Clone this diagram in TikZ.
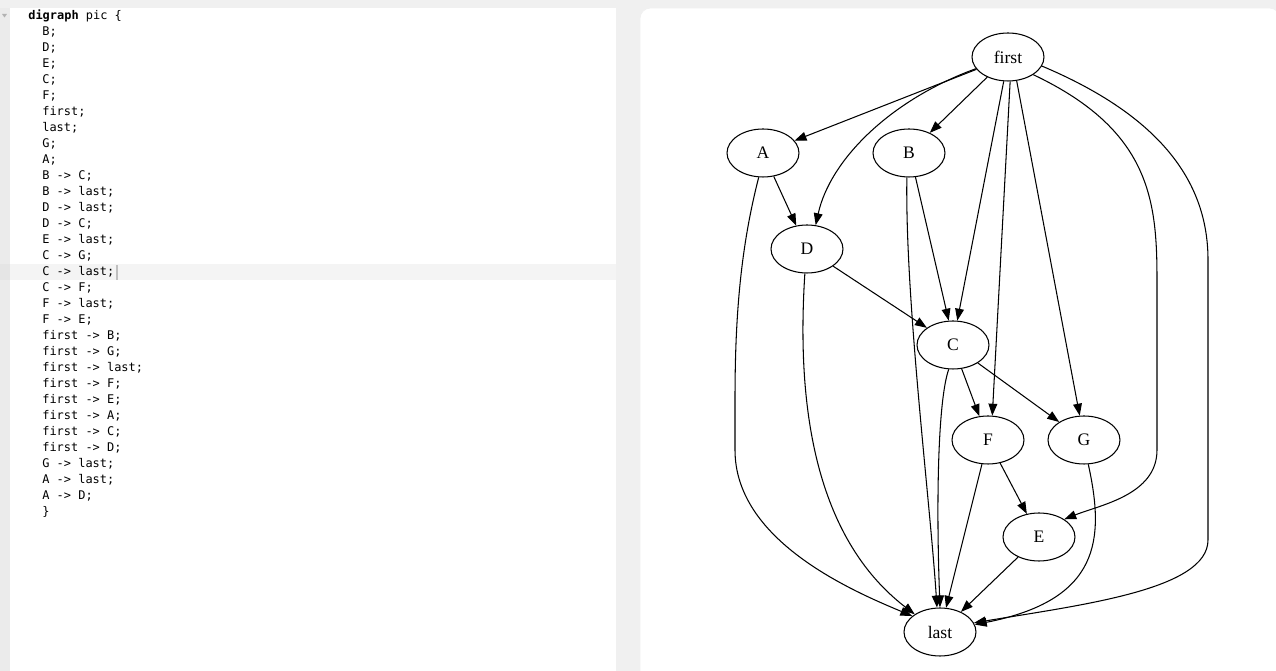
\documentclass[tikz,border=0pt]{standalone}
\usepackage{fontspec}
\setmainfont{Liberation Serif}
\newfontfamily\codefont{DejaVu Sans Mono}
\usetikzlibrary{shapes.geometric,arrows.meta}
\definecolor{panelbg}{HTML}{F0F0F0}
\definecolor{gutter}{HTML}{EBEBEB}
\definecolor{rowhl}{HTML}{F4F4F4}

\begin{document}
\begin{tikzpicture}[x=0.02cm, y=-0.02cm,
  every node/.style={font=\fontsize{10}{12}\selectfont},
  vertex/.style={draw, ellipse, line width=0.6pt, minimum width=1.44cm, minimum height=0.96cm, inner sep=0pt},
  edge/.style={line width=0.6pt, -{Triangle[length=6.8pt,width=5pt]}},
  codeline/.style={anchor=base west, inner sep=0pt, font=\codefont\fontsize{6.8}{8}\selectfont}]
  \useasboundingbox (0,0) rectangle (1276,671);
  \fill[panelbg] (0,0) rectangle (1276,671);
  \fill[gutter] (0,8) rectangle (10,671);
  \fill[white] (10,8) rectangle (616,671);
  \draw[gray!12, fill=white, rounded corners=6pt] (640,671) -- (640,8) -- (1280,8) -- (1280,671);
  \fill[gray!20] (0,264) rectangle (10,280);
  \fill[rowhl] (10,264) rectangle (616,280);
  \fill[gray!60] (2,14) -- (7,14) -- (4.5,17.5) -- cycle;
  \draw[gray!50, line width=0.6pt] (117,265) -- (117,280);

  \node[codeline] (l0) at (28,20) {\textbf{digraph} pic \{};
  \foreach \txt [count=\i] in {{B;},{D;},{E;},{C;},{F;},{first;},{last;},{G;},{A;},
      {B -> C;},{B -> last;},{D -> last;},{D -> C;},{E -> last;},{C -> G;},{C -> last;},
      {C -> F;},{F -> last;},{F -> E;},{first -> B;},{first -> G;},{first -> last;},
      {first -> F;},{first -> E;},{first -> A;},{first -> C;},{first -> D;},
      {G -> last;},{A -> last;},{A -> D;},{\}}}
    \node[codeline] (l\i) at (42,{20+16*\i}) {\txt};

  \node[vertex] (first) at (1008,57) {first};
  \node[vertex] (A) at (763,153) {A};
  \node[vertex] (B) at (909,153) {B};
  \node[vertex] (D) at (807,249) {D};
  \node[vertex] (C) at (953,345) {C};
  \node[vertex] (F) at (988,440) {F};
  \node[vertex] (G) at (1084,440) {G};
  \node[vertex] (E) at (1039,537) {E};
  \node[vertex] (last) at (940,632) {last};

  \draw[edge] (first) -- (A);
  \draw[edge] (first) -- (B);
  \draw[edge] (first.-100) -- (C.80);
  \draw[edge] (first.-85) -- (F.80);
  \draw[edge] (first.-70) -- (G.100);
  \draw[edge] (first.200) .. controls (890,100) and (830,160) .. (D.70);
  \draw[edge] (first.-35) .. controls (1150,130) and (1157,200) .. (1157,280)
    -- (1157,450) .. controls (1157,495) and (1100,505) .. (E.35);
  \draw[edge] (first.-15) .. controls (1170,120) and (1208,190) .. (1208,260)
    -- (1208,540) .. controls (1208,590) and (1080,605) .. (last.15);
  \draw[edge] (A) -- (D);
  \draw[edge] (A.-100) .. controls (740,250) and (735,320) .. (735,400)
    -- (735,450) .. controls (735,540) and (850,590) .. (last.150);
  \draw[edge] (B.-75) -- (C.100);
  \draw[edge] (B.-95) .. controls (905,300) and (930,500) .. (last.97);
  \draw[edge] (D) -- (C);
  \draw[edge] (D.-95) .. controls (798,380) and (805,530) .. (last.145);
  \draw[edge] (C.-70) -- (F.110);
  \draw[edge] (C) -- (G);
  \draw[edge] (C.-100) .. controls (938,400) and (936,500) .. (last.90);
  \draw[edge] (F) -- (E);
  \draw[edge] (F) -- (last);
  \draw[edge] (E) -- (last);
  \draw[edge] (G.-80) .. controls (1105,540) and (1100,600) .. (last.12);
\end{tikzpicture}
\end{document}
